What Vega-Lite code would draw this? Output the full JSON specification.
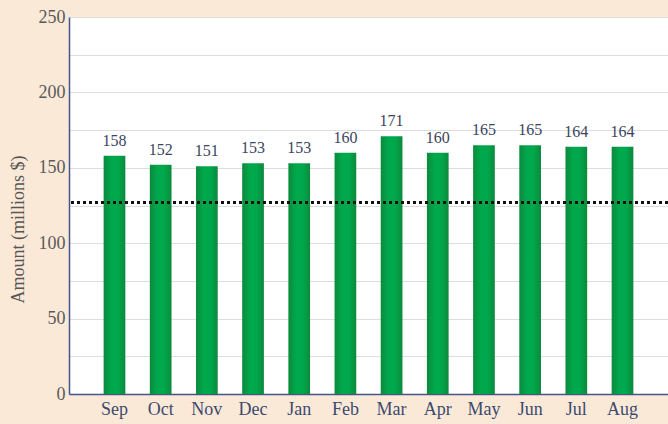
{
  "$schema": "https://vega.github.io/schema/vega-lite/v6.json",
  "width": 599,
  "height": 377,
  "autosize": {"type": "none"},
  "padding": {"left": 69, "top": 17, "right": 0, "bottom": 30},
  "background": "#fbe9d8",
  "view": {"fill": "white", "stroke": null},
  "data": {"values": [
    {"month": "Sep", "amount": 158},
    {"month": "Oct", "amount": 152},
    {"month": "Nov", "amount": 151},
    {"month": "Dec", "amount": 153},
    {"month": "Jan", "amount": 153},
    {"month": "Feb", "amount": 160},
    {"month": "Mar", "amount": 171},
    {"month": "Apr", "amount": 160},
    {"month": "May", "amount": 165},
    {"month": "Jun", "amount": 165},
    {"month": "Jul", "amount": 164},
    {"month": "Aug", "amount": 164}
  ]},
  "encoding": {
    "x": {
      "field": "month", "type": "nominal", "sort": null,
      "scale": {"paddingInner": 0.53, "paddingOuter": 0.75},
      "axis": {
        "title": null, "labelAngle": 0, "ticks": false,
        "labelFont": "Liberation Serif", "labelFontSize": 18, "labelColor": "#3c4a6e",
        "labelPadding": 6, "domainColor": "#46548a", "domainWidth": 1.5
      }
    },
    "y": {
      "field": "amount", "type": "quantitative",
      "scale": {"domain": [0, 250], "nice": false},
      "axis": {
        "title": "Amount (millions $)",
        "titleFont": "Liberation Serif", "titleFontSize": 18, "titleFontWeight": "normal",
        "titleColor": "#555555", "titlePadding": 11, "titleY": 212,
        "values": [0, 25, 50, 75, 100, 125, 150, 175, 200, 225, 250],
        "labelExpr": "datum.value % 50 === 0 ? datum.label : ''",
        "labelFont": "Liberation Serif", "labelFontSize": 18, "labelColor": "#5a5a5a",
        "labelPadding": 4, "ticks": false,
        "grid": true, "gridColor": "#dddddd", "gridWidth": 1,
        "domainColor": "#46548a", "domainWidth": 1.5
      }
    }
  },
  "layer": [
    {
      "mark": {
        "type": "bar",
        "color": {
          "gradient": "linear", "x1": 0, "x2": 1, "y1": 0, "y2": 0,
          "stops": [
            {"offset": 0, "color": "#0c8a3c"},
            {"offset": 0.35, "color": "#00a84c"},
            {"offset": 0.65, "color": "#00a84c"},
            {"offset": 1, "color": "#0c8a3c"}
          ]
        }
      }
    },
    {
      "mark": {
        "type": "text", "baseline": "bottom", "dy": -7,
        "font": "Liberation Serif", "fontSize": 16, "color": "#3b4560"
      },
      "encoding": {"text": {"field": "amount", "type": "quantitative"}}
    },
    {
      "mark": {"type": "rule", "color": "#111111", "strokeWidth": 3, "strokeDash": [3, 3]},
      "encoding": {"y": {"datum": 127}, "x": null}
    }
  ]
}
